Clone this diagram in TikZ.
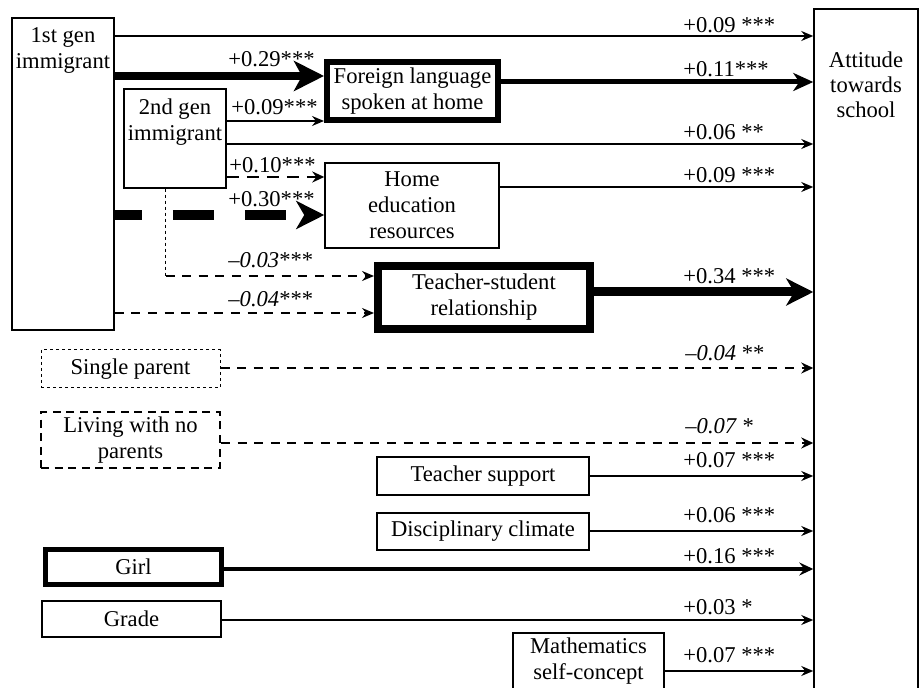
\documentclass[tikz,border=0pt]{standalone}
\usepackage{fontspec}
\setmainfont{Liberation Serif}
\usetikzlibrary{arrows.meta,positioning}

\tikzset{
  box/.style={draw, line width=0.75pt, align=center, inner sep=1pt, font=\fontsize{11.3}{13}\selectfont},
  txt/.style={align=center, inner sep=0pt, font=\fontsize{11.3}{13}\selectfont},
  lab/.style={anchor=base west, inner sep=0pt, font=\fontsize{11.3}{13}\selectfont},
  thinarrow/.style={line width=0.75pt, -{Stealth[length=6pt,width=5pt,inset=2pt]}},
  boldarrow/.style={line width=2.5pt, -{Stealth[length=10pt,width=9pt,inset=3pt]}},
  girlarrow/.style={line width=2pt, -{Stealth[length=7pt,width=6.5pt,inset=2.5pt]}},
  heavyarrow/.style={line width=4.3pt, -{Stealth[length=15pt,width=15pt,inset=4pt]}},
  tsrarrow/.style={line width=4.5pt, -{Stealth[length=13.5pt,width=13.5pt,inset=4pt]}},
  meddash/.style={line width=1.25pt, dash pattern=on 6pt off 4pt, -{Stealth[length=6pt,width=5.5pt,inset=2pt]}},
  heavydash/.style={line width=5pt, dash pattern=on 20.5pt off 15.5pt, dash phase=7pt, -{Stealth[length=14pt,width=14pt,inset=4pt]}},
  thindash/.style={line width=0.75pt, dash pattern=on 4.5pt off 3.8pt, -{Stealth[length=6pt,width=5pt,inset=2pt]}},
  pardash/.style={line width=1pt, dash pattern=on 4.5pt off 3.8pt, -{Stealth[length=6pt,width=5.5pt,inset=2pt]}},
  finedash/.style={line width=0.5pt, dash pattern=on 1.5pt off 1.5pt}
}

\begin{document}
\begin{tikzpicture}[x=0.5pt, y=-0.5pt]
  \useasboundingbox (0,0) rectangle (919,688);
  \clip (0,0) rectangle (919,688);

  % Variablen
  \node[box, minimum width=51pt, minimum height=156pt] (gen1) at (63,174) {};
  \node[txt, below=5pt of gen1.north] (gen1txt) {1st gen\\immigrant};
  \node[box, minimum width=51pt, minimum height=49.5pt] (gen2) at (175,138.5) {};
  \node[txt, below=5pt of gen2.north] (gen2txt) {2nd gen\\immigrant};
  \node[box, line width=3pt, minimum width=85.5pt, minimum height=29pt] (lang) at (412.5,91) {Foreign language\\spoken at home};
  \node[box, minimum width=87pt, minimum height=42.5pt] (home) at (412,205.5) {Home\\education\\resources};
  \node[box, line width=4pt, minimum width=106pt, minimum height=31.5pt] (tsr) at (484,297.5) {Teacher-student\\relationship};
  \node[box, minimum width=52pt, minimum height=355.5pt] (att) at (866,364.5) {};
  \node[txt, font=\fontsize{11.3}{12.5}\selectfont, below=21.5pt of att.north] (atttxt) {Attitude\\towards\\school};
  \node[box, line width=0.5pt, dash pattern=on 1.5pt off 1.5pt, minimum width=89.5pt, minimum height=19pt] (single) at (130.5,369) {Single parent};
  \node[box, line width=1pt, dash pattern=on 4pt off 2.8pt, minimum width=89.5pt, minimum height=28pt] (nopar) at (130.5,440) {Living with no\\parents};
  \node[box, minimum width=106pt, minimum height=19pt] (tsup) at (483,476) {Teacher support};
  \node[box, minimum width=106pt, minimum height=18.5pt] (disc) at (483,531.5) {Disciplinary climate};
  \node[box, line width=2.5pt, minimum width=88pt, minimum height=17.5pt] (girl) at (133.5,567) {Girl};
  \node[box, minimum width=89.5pt, minimum height=18pt] (grade) at (131.5,619) {Grade};
  \node[box, minimum width=75.5pt, minimum height=28.5pt] (math) at (588.5,661.5) {Mathematics\\self-concept};

  % Pfade
  \draw[thinarrow] (gen1.east |- 0,36) -- (att.west |- 0,36);
  \draw[heavyarrow] (gen1.east |- 0,76) -- (lang.west |- 0,76);
  \draw[thinarrow] (gen2.east |- 0,121) -- (lang.west |- 0,121);
  \draw[boldarrow] (lang.east |- 0,82) -- (att.west |- 0,82);
  \draw[thinarrow] (gen2.east |- 0,144) -- (att.west |- 0,144);
  \draw[meddash] (gen2.east |- 0,177) -- (home.west |- 0,177);
  \draw[heavydash] (gen1.east |- 0,215) -- (home.west |- 0,215);
  \draw[thinarrow] (home.east |- 0,187) -- (att.west |- 0,187);
  \coordinate (bend) at (165.5,276);
  \draw[finedash] (gen2.south -| bend) -- (bend);
  \draw[thindash] (bend) -- (tsr.west |- bend);
  \draw[thindash] (gen1.east |- 0,313) -- (tsr.west |- 0,313);
  \draw[tsrarrow] (tsr.east |- 0,292) -- (att.west |- 0,292);
  \draw[pardash] (single.east |- 0,368) -- (att.west |- 0,368);
  \draw[pardash] (nopar.east |- 0,443) -- (att.west |- 0,443);
  \draw[thinarrow] (tsup.east) -- (tsup.east -| att.west);
  \draw[thinarrow] (disc.east |- 0,531) -- (att.west |- 0,531);
  \draw[girlarrow] (girl.east |- 0,569) -- (att.west |- 0,569);
  \draw[thinarrow] (grade.east |- 0,620) -- (att.west |- 0,620);
  \draw[thinarrow] (math.east |- 0,671) -- (att.west |- 0,671);

  % Koeffizienten
  \node[lab] (c1) at (683,33) {+0.09 ***};
  \node[lab] (c2) at (228,67) {+0.29***};
  \node[lab] (c3) at (231,115) {+0.09***};
  \node[lab] (c4) at (683,77) {+0.11***};
  \node[lab] (c5) at (683,140) {+0.06 **};
  \node[lab] (c6) at (229,173) {+0.10***};
  \node[lab] (c7) at (228,207) {+0.30***};
  \node[lab] (c8) at (683,183) {+0.09 ***};
  \node[lab] (c9) at (228,268) {\textit{–0.03}***};
  \node[lab] (c10) at (228,307) {\textit{–0.04}***};
  \node[lab] (c11) at (683,284) {+0.34 ***};
  \node[lab] (c12) at (685,361) {\textit{–0.04} **};
  \node[lab] (c13) at (685,434) {\textit{–0.07} *};
  \node[lab] (c14) at (683,467) {+0.07 ***};
  \node[lab] (c15) at (683,523) {+0.06 ***};
  \node[lab] (c16) at (683,563) {+0.16 ***};
  \node[lab] (c17) at (683,614) {+0.03 *};
  \node[lab] (c18) at (683,662) {+0.07 ***};
\end{tikzpicture}
\end{document}
